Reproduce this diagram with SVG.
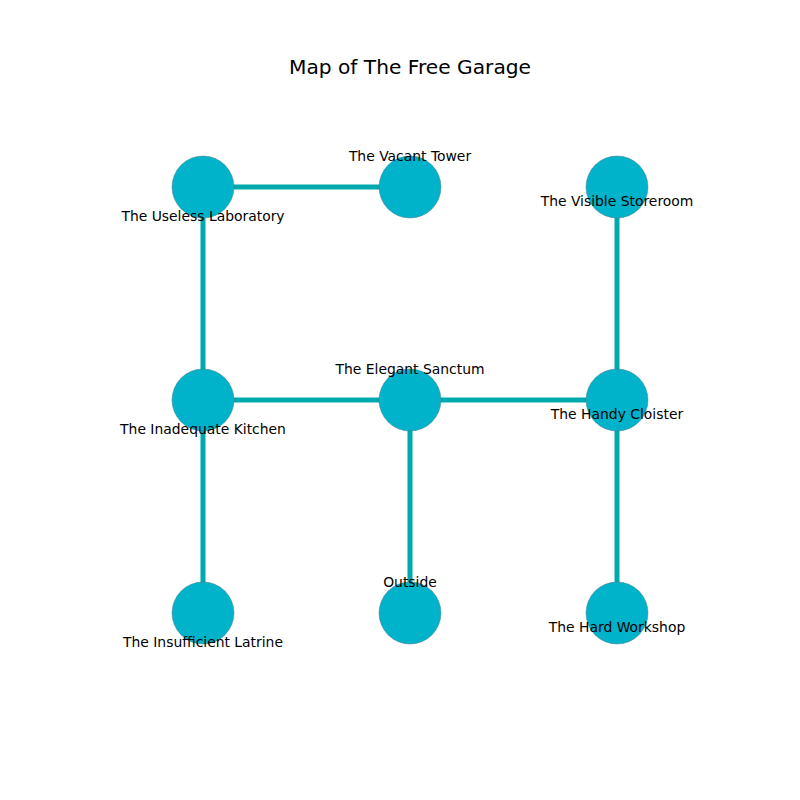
<svg xmlns="http://www.w3.org/2000/svg" width="800" height="800" viewBox="0 0 800 800">
<style>
.e{stroke:#00a9ae;stroke-width:5;fill:none}
.n{fill:#00b2ca;stroke:#4a7f88;stroke-width:0.5}
.l{font-family:"DejaVu Sans",sans-serif;font-size:13.9px;fill:#000;text-anchor:middle}
.t{font-family:"DejaVu Sans",sans-serif;font-size:20.2px;fill:#000;text-anchor:middle}
</style>
<rect width="800" height="800" fill="#fff"/>
<text class="t" x="410" y="74">Map of The Free Garage</text>
<g id="connectors">
<line class="e" x1="203" y1="187" x2="410" y2="187"/>
<line class="e" x1="203" y1="187" x2="203" y2="400"/>
<line class="e" x1="617" y1="187" x2="617" y2="400"/>
<line class="e" x1="203" y1="400" x2="617" y2="400"/>
<line class="e" x1="203" y1="400" x2="203" y2="613"/>
<line class="e" x1="410" y1="400" x2="410" y2="613"/>
<line class="e" x1="617" y1="400" x2="617" y2="613"/>
</g>
<g id="useless-laboratory"><circle class="n" cx="203" cy="187" r="31"/><text class="l" x="203" y="221">The Useless Laboratory</text></g>
<g id="vacant-tower"><circle class="n" cx="410" cy="187" r="31"/><text class="l" x="410" y="161">The Vacant Tower</text></g>
<g id="visible-storeroom"><circle class="n" cx="617" cy="187" r="31"/><text class="l" x="617" y="206">The Visible Storeroom</text></g>
<g id="inadequate-kitchen"><circle class="n" cx="203" cy="400" r="31"/><text class="l" x="203" y="434">The Inadequate Kitchen</text></g>
<g id="elegant-sanctum"><circle class="n" cx="410" cy="400" r="31"/><text class="l" x="410" y="374">The Elegant Sanctum</text></g>
<g id="handy-cloister"><circle class="n" cx="617" cy="400" r="31"/><text class="l" x="617" y="419">The Handy Cloister</text></g>
<g id="insufficient-latrine"><circle class="n" cx="203" cy="613" r="31"/><text class="l" x="203" y="647">The Insufficient Latrine</text></g>
<g id="outside"><circle class="n" cx="410" cy="613" r="31"/><text class="l" x="410" y="587">Outside</text></g>
<g id="hard-workshop"><circle class="n" cx="617" cy="613" r="31"/><text class="l" x="617" y="632">The Hard Workshop</text></g>
</svg>
